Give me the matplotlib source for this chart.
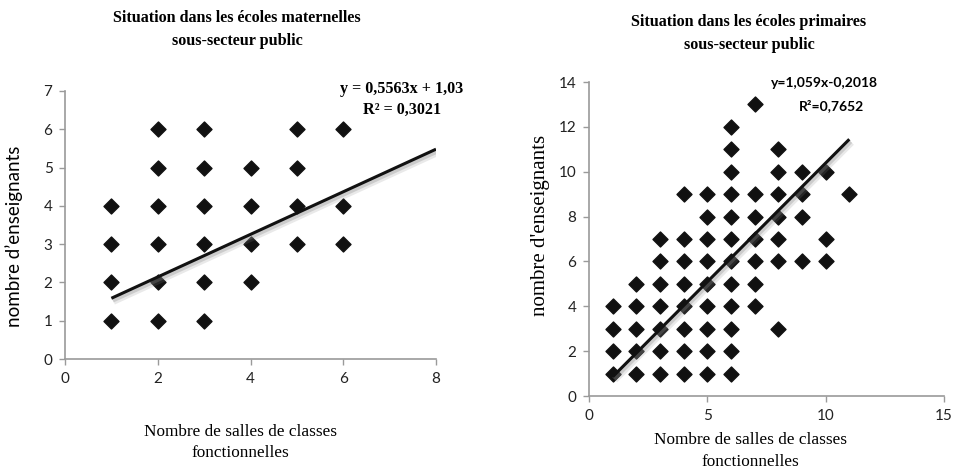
import matplotlib
matplotlib.use("Agg")
import matplotlib.pyplot as plt
import matplotlib.patheffects as pe
import numpy as np

# ---- Data: left chart (écoles maternelles) ----
mat_x = [1, 1, 1, 1,
         2, 2, 2, 2, 2, 2,
         3, 3, 3, 3, 3, 3,
         4, 4, 4, 4,
         5, 5, 5, 5,
         6, 6, 6]
mat_y = [1, 2, 3, 4,
         1, 2, 3, 4, 5, 6,
         1, 2, 3, 4, 5, 6,
         2, 3, 4, 5,
         3, 4, 5, 6,
         3, 4, 6]
mat_slope, mat_inter = 0.5563, 1.03
mat_trend_x = [1, 8]

# ---- Data: right chart (écoles primaires) ----
pri_x = [1]*4 + [2]*5 + [3]*7 + [4]*8 + [5]*9 + [6]*12 + [7]*7 + [8]*7 + [9]*4 + [10]*3 + [11]
pri_y = [1, 2, 3, 4,
         1, 2, 3, 4, 5,
         1, 2, 3, 4, 5, 6, 7,
         1, 2, 3, 4, 5, 6, 7, 9,
         1, 2, 3, 4, 5, 6, 7, 8, 9,
         1, 2, 3, 4, 5, 6, 7, 8, 9, 10, 11, 12,
         4, 5, 6, 7, 8, 9, 13,
         3, 6, 7, 8, 9, 10, 11,
         6, 8, 9, 10,
         6, 7, 10,
         9]
pri_slope, pri_inter = 1.059, -0.2018
pri_trend_x = [1, 11]

W, H = 959, 469
fig = plt.figure(figsize=(W/100, H/100), dpi=100)

def px_axes(l, t, r, b):
    return fig.add_axes([l/W, (H-b)/H, (r-l)/W, (b-t)/H])

def fx(x):
    return x/W

def fy(y):
    return (H-y)/H

SANS = ["Lato", "DejaVu Sans"]
SERIF = ["Liberation Serif", "DejaVu Serif"]
GRAY = "#9a9a9a"

def style(ax, xlim, ylim, xticks, yticks):
    ax.set_xlim(*xlim)
    ax.set_ylim(*ylim)
    ax.set_xticks(xticks)
    ax.set_yticks(yticks)
    for s in ["top", "right"]:
        ax.spines[s].set_visible(False)
    for s in ["left", "bottom"]:
        ax.spines[s].set_color(GRAY)
        ax.spines[s].set_linewidth(1.2)
    ax.tick_params(direction="out", length=4, width=1, color=GRAY,
                   labelsize=11, pad=5)
    for lab in ax.get_xticklabels() + ax.get_yticklabels():
        lab.set_family(SANS)
        lab.set_color("#222222")
    ax.patch.set_alpha(0)

shadow = [pe.SimpleLineShadow(offset=(1.5, -2.2), shadow_color="#888888", alpha=0.18, linewidth=5),
          pe.SimpleLineShadow(offset=(1.0, -1.6), shadow_color="#888888", alpha=0.3, linewidth=3),
          pe.Normal()]

# ---- Left chart ----
ax1 = px_axes(65, 91, 436, 359)
ax1.scatter(mat_x, mat_y, marker="D", s=58, color="#111111", zorder=3, clip_on=False)
tx = np.array(mat_trend_x, dtype=float)
ax1.plot(tx, mat_slope*tx + mat_inter, color="#111111", lw=2.2, zorder=4,
         path_effects=shadow, solid_capstyle="butt")
style(ax1, (0, 8), (0, 7), [0, 2, 4, 6, 8], range(0, 8))

fig.text(fx(237), fy(18), "Situation dans les écoles maternelles", ha="center", va="center",
         family=SERIF, fontweight="bold", fontsize=11.6)
fig.text(fx(237), fy(41), "sous-secteur public", ha="center", va="center",
         family=SERIF, fontweight="bold", fontsize=11.6)
fig.text(fx(14), fy(236), "nombre d’enseignants", rotation=90, ha="center", va="center",
         family=SANS, fontsize=13.5)
fig.text(fx(240), fy(432), "Nombre de salles de classes", ha="center", va="center",
         family=SERIF, fontsize=12.4)
fig.text(fx(240), fy(453), "fonctionnelles", ha="center", va="center",
         family=SERIF, fontsize=12.4)
fig.text(fx(463), fy(89), "y = 0,5563x + 1,03", ha="right", va="center",
         family=SERIF, fontweight="bold", fontsize=11.6)
fig.text(fx(402), fy(110), "R² = 0,3021", ha="center", va="center",
         family=SERIF, fontweight="bold", fontsize=11.6)

# ---- Right chart ----
ax2 = px_axes(589, 82, 944, 396)
ax2.scatter(pri_x, pri_y, marker="D", s=58, color="#111111", zorder=3, clip_on=False)
tx2 = np.array(pri_trend_x, dtype=float)
ax2.plot(tx2, pri_slope*tx2 + pri_inter, color="#111111", lw=2.2, zorder=4,
         path_effects=shadow, solid_capstyle="butt")
style(ax2, (0, 15), (0, 14), [0, 5, 10, 15], range(0, 15, 2))

fig.text(fx(749), fy(22), "Situation dans les écoles primaires", ha="center", va="center",
         family=SERIF, fontweight="bold", fontsize=11.6)
fig.text(fx(749), fy(45), "sous-secteur public", ha="center", va="center",
         family=SERIF, fontweight="bold", fontsize=11.6)
fig.text(fx(540), fy(225), "nombre d'enseignants", rotation=90, ha="center", va="center",
         family=SERIF, fontsize=15)
fig.text(fx(750), fy(440), "Nombre de salles de classes", ha="center", va="center",
         family=SERIF, fontsize=12.4)
fig.text(fx(750), fy(462), "fonctionnelles", ha="center", va="center",
         family=SERIF, fontsize=12.4)
fig.text(fx(824), fy(83), "y=1,059x-0,2018", ha="center", va="center",
         family=SANS, fontweight="bold", fontsize=10)
fig.text(fx(831), fy(106), "R²=0,7652", ha="center", va="center",
         family=SANS, fontweight="bold", fontsize=10)

fig.savefig("out.png", dpi=100)
